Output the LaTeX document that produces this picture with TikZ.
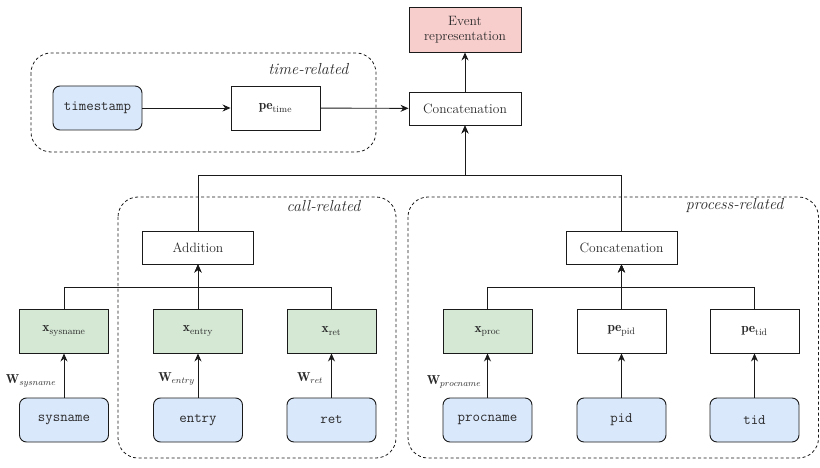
\documentclass[tikz,border=0pt]{standalone}
\usepackage{fontspec}
\usetikzlibrary{arrows.meta}
\definecolor{inblue}{HTML}{DAE8FC}
\definecolor{xgreen}{HTML}{D5E8D4}
\definecolor{evred}{HTML}{F8CECC}
\definecolor{edge}{HTML}{1A1A1A}
\definecolor{txt}{HTML}{2A2A2A}
\tikzset{
  base/.style={draw=edge,line width=0.9pt,align=center,inner sep=1pt,text=txt,
    font=\fontsize{13.5}{15.5}\selectfont},
  opbox/.style={base,fill=white,minimum width=111pt,minimum height=33pt},
  embbox/.style={base,minimum width=89pt,minimum height=44pt},
  inbox/.style={base,fill=inblue,rounded corners=7pt,minimum width=89pt,minimum height=44pt,
    font=\fontsize{14.5}{16}\selectfont\ttfamily},
  grn/.style={embbox,fill=xgreen},
  wht/.style={embbox,fill=white},
  group/.style={draw=edge,line width=0.8pt,dash pattern=on 3pt off 2.5pt,rounded corners=20pt},
  grouplabel/.style={anchor=east,font=\fontsize{16}{18}\selectfont\itshape,text=txt},
  wlabel/.style={font=\fontsize{13}{15}\selectfont,inner sep=0pt,text=txt},
  arr/.style={draw=edge,line width=0.9pt,-{Stealth[length=8pt,width=7pt]}},
}
\begin{document}
\begin{tikzpicture}[x=1pt,y=-1pt]
\useasboundingbox (0,0) rectangle (820,468);
% groups
\draw[group] (31,53) rectangle (376,152);
\draw[group] (118,197) rectangle (396,458);
\draw[group] (408,197) rectangle (818.5,458);
\node[grouplabel] (tlab) at (352,69) {time-related};
\node[grouplabel] (clab) at (364,206) {call-related};
\node[grouplabel] (plab) at (787,206) {process-related};
% top
\node[base,fill=evred,minimum width=112pt,minimum height=45pt] (ev) at (465,29.5) {Event\\representation};
\node[opbox,minimum width=112pt] (cat) at (465,108.5) {Concatenation};
\node[inbox] (ts) at (97.5,108) {timestamp};
\node[wht] (pet) at (275.5,108) {$\mathbf{pe}_{\mathrm{time}}$};
% call
\node[opbox] (add) at (198,247.5) {Addition};
\node[grn] (xs) at (64,331) {$\mathbf{x}_{\mathrm{sysname}}$};
\node[grn] (xe) at (198,331) {$\mathbf{x}_{\mathrm{entry}}$};
\node[grn] (xr) at (331.5,331) {$\mathbf{x}_{\mathrm{ret}}$};
\node[inbox] (sys) at (64,420) {sysname};
\node[inbox] (ent) at (198,420) {entry};
\node[inbox] (ret) at (331.5,420) {ret};
% process
\node[opbox] (pcat) at (621.5,247.5) {Concatenation};
\node[grn] (xp) at (487.5,331) {$\mathbf{x}_{\mathrm{proc}}$};
\node[wht] (ppid) at (621.5,331) {$\mathbf{pe}_{\mathrm{pid}}$};
\node[wht] (ptid) at (754.5,331) {$\mathbf{pe}_{\mathrm{tid}}$};
\node[inbox] (proc) at (487.5,420) {procname};
\node[inbox] (pid) at (621.5,420) {pid};
\node[inbox] (tid) at (754.5,420) {tid};
% W labels
\node[wlabel] (ws) at (31,381) {$\mathbf{W}_{sysname}$};
\node[wlabel] (we) at (176.5,379) {$\mathbf{W}_{entry}$};
\node[wlabel] (wr) at (310,378) {$\mathbf{W}_{ret}$};
\node[wlabel] (wp) at (454,382) {$\mathbf{W}_{procname}$};
% bus coordinates
\coordinate (topbus) at (465,175);
\coordinate (cbus) at (198,287);
\coordinate (pbus) at (621.5,287);
% connectors
\draw[arr] (ts) -- (pet);
\draw[arr] (pet) -- (cat);
\draw[arr] (cat) -- (ev);
\draw[arr] (add.north) |- (topbus) -- (cat.south);
\draw[arr] (pcat.north) |- (topbus) -- (cat.south);
\draw[arr] (xs.north) |- (cbus) -- (add.south);
\draw[arr] (xr.north) |- (cbus) -- (add.south);
\draw[arr] (xe) -- (add);
\draw[arr] (xp.north) |- (pbus) -- (pcat.south);
\draw[arr] (ptid.north) |- (pbus) -- (pcat.south);
\draw[arr] (ppid) -- (pcat);
\draw[arr] (sys) -- (xs);
\draw[arr] (ent) -- (xe);
\draw[arr] (ret) -- (xr);
\draw[arr] (proc) -- (xp);
\draw[arr] (pid) -- (ppid);
\draw[arr] (tid) -- (ptid);
\end{tikzpicture}
\end{document}
